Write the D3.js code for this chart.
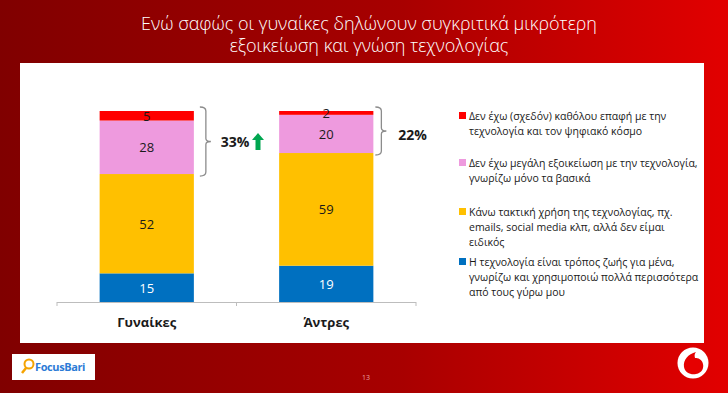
<!DOCTYPE html>
<html>
<head>
<meta charset="utf-8">
<script src="https://cdn.jsdelivr.net/npm/d3@7/dist/d3.min.js"></script>
<style>
  html, body { margin: 0; padding: 0; background: #8a0000; }
  svg { display: block; }
</style>
</head>
<body>
<svg id="chart" width="728" height="393"></svg>
<script>
// data
var categories = ['Γυναίκες', 'Άντρες'];
var lifestyle = [15, 19];   // blue
var regular = [52, 59];     // yellow
var basic = [28, 20];       // pink
var noContact = [5, 2];     // red
var bracketTotals = ['33%', '22%'];
var titleLines = ['Ενώ σαφώς οι γυναίκες δηλώνουν συγκριτικά μικρότερη', 'εξοικείωση και γνώση τεχνολογίας'];
var legendLabels = [
  ['Δεν έχω (σχεδόν) καθόλου επαφή με την', 'τεχνολογία και τον ψηφιακό κόσμο'],
  ['Δεν έχω μεγάλη εξοικείωση με την τεχνολογία,', 'γνωρίζω μόνο τα βασικά'],
  ['Κάνω τακτική χρήση της τεχνολογίας, πχ.', 'emails, social media  κλπ, αλλά δεν είμαι', 'ειδικός'],
  ['Η τεχνολογία είναι τρόπος ζωής για μένα,', 'γνωρίζω και χρησιμοποιώ πολλά περισσότερα', 'από τους γύρω μου']
];

var keys = ['lifestyle', 'regular', 'basic', 'noContact'];
var colors = { lifestyle: '#0070c0', regular: '#ffc000', basic: '#ee9ade', noContact: '#ff0000' };
var labelColors = { lifestyle: '#ffffff', regular: '#1a1a1a', basic: '#1a1a1a', noContact: '#1a1a1a' };

var rows = categories.map(function(c, i) {
  return { cat: c, lifestyle: lifestyle[i], regular: regular[i], basic: basic[i], noContact: noContact[i] };
});

var svg = d3.select('#chart');
var font = '"Open Sans", "Liberation Sans", sans-serif';

// slide background
var defs = svg.append('defs');
var grad = defs.append('linearGradient').attr('id', 'bg').attr('x1', 0).attr('x2', 1).attr('y1', 0).attr('y2', 0);
grad.append('stop').attr('offset', '0%').attr('stop-color', '#800000');
grad.append('stop').attr('offset', '55%').attr('stop-color', '#a80000');
grad.append('stop').attr('offset', '100%').attr('stop-color', '#e20000');
svg.append('rect').attr('width', 728).attr('height', 393).attr('fill', 'url(#bg)');

// title
svg.append('g').selectAll('text')
  .data(titleLines)
  .join('text')
  .attr('x', 369)
  .attr('y', function(d, i) { return 30 + i * 22; })
  .attr('text-anchor', 'middle')
  .attr('fill', '#fff')
  .attr('font-family', font)
  .attr('font-weight', 300)
  .attr('font-size', 18)
  .text(function(d) { return d; });

// white panel
svg.append('rect').attr('x', 20).attr('y', 63).attr('width', 684).attr('height', 280).attr('fill', '#fff');

// scales
var x = d3.scaleBand().domain(categories).range([57, 416]);
var y = d3.scaleLinear().domain([0, 100]).range([302, 111]);
var barW = x.bandwidth() * 0.525;

var stack = d3.stack().keys(keys)(rows);

var layers = svg.append('g').selectAll('g')
  .data(stack)
  .join('g')
  .attr('fill', function(d) { return colors[d.key]; });

layers.selectAll('rect')
  .data(function(d) { return d; })
  .join('rect')
  .attr('x', function(d) { return x(d.data.cat) + (x.bandwidth() - barW) / 2; })
  .attr('y', function(d) { return y(d[1]); })
  .attr('width', barW)
  .attr('height', function(d) { return y(d[0]) - y(d[1]); });

// value labels
var labels = svg.append('g');
stack.forEach(function(layer) {
  labels.selectAll('text.l-' + layer.key)
    .data(layer)
    .join('text')
    .attr('class', 'l-' + layer.key)
    .attr('x', function(d) { return x(d.data.cat) + x.bandwidth() / 2; })
    .attr('y', function(d) { return (y(d[0]) + y(d[1])) / 2 + 5; })
    .attr('text-anchor', 'middle')
    .attr('font-family', font)
    .attr('font-size', 13)
    .attr('fill', labelColors[layer.key])
    .text(function(d) { return d[1] - d[0]; });
});

// category axis
var axis = svg.append('g').attr('stroke', '#bdbdbd').attr('stroke-width', 1);
axis.append('line').attr('x1', 57).attr('x2', 416).attr('y1', 302.5).attr('y2', 302.5);
[57, 57 + x.step(), 416].forEach(function(t) {
  axis.append('line').attr('x1', t).attr('x2', t).attr('y1', 302).attr('y2', 306);
});
svg.append('g').selectAll('text')
  .data(categories)
  .join('text')
  .attr('x', function(d) { return x(d) + x.bandwidth() / 2; })
  .attr('y', 327)
  .attr('text-anchor', 'middle')
  .attr('font-family', font)
  .attr('font-weight', 'bold')
  .attr('font-size', 13)
  .attr('fill', '#1a1a1a')
  .text(function(d) { return d; });

// brackets over the two upper segments
var bracketGap = [12, 8];
var totalGap = [15, 17];
rows.forEach(function(r, i) {
  var bx = x(r.cat) + (x.bandwidth() + barW) / 2 + bracketGap[i];
  var top = y(100) - 4;
  var bottom = y(r.lifestyle + r.regular) + 2;
  var mid = (top + bottom) / 2;
  svg.append('path')
    .attr('d', 'M' + (bx - 6) + ',' + top + ' Q' + bx + ',' + top + ' ' + bx + ',' + (top + 4) +
      ' L' + bx + ',' + (mid - 3) + ' Q' + bx + ',' + mid + ' ' + (bx + 5) + ',' + mid +
      ' Q' + bx + ',' + mid + ' ' + bx + ',' + (mid + 3) +
      ' L' + bx + ',' + (bottom - 4) + ' Q' + bx + ',' + bottom + ' ' + (bx - 6) + ',' + bottom)
    .attr('fill', 'none')
    .attr('stroke', '#8c8c8c')
    .attr('stroke-width', 1.3);
  svg.append('text')
    .attr('x', bx + totalGap[i])
    .attr('y', i === 0 ? mid + 5 : mid + 9)
    .attr('font-family', font)
    .attr('font-weight', 'bold')
    .attr('font-size', 14)
    .attr('fill', '#1a1a1a')
    .text(bracketTotals[i]);
});

// green up arrow next to 33%
var ax = 258, ay = 133;
svg.append('path')
  .attr('d', 'M' + ax + ',' + ay + ' l6,7 h-3.5 v10 h-5 v-10 h-3.5 z')
  .attr('fill', '#00a650');

// legend
var legendKeys = ['noContact', 'basic', 'regular', 'lifestyle'];
var legendTop = [116, 163, 212, 262];
var legend = svg.append('g').attr('font-family', font).attr('font-size', 10.5).attr('fill', '#1a1a1a');
legendKeys.forEach(function(k, i) {
  legend.append('rect')
    .attr('x', 459).attr('y', legendTop[i] - 4)
    .attr('width', 7).attr('height', 7)
    .attr('fill', colors[k]);
  legend.append('g').selectAll('text')
    .data(legendLabels[i])
    .join('text')
    .attr('x', 469)
    .attr('y', function(d, j) { return legendTop[i] + 4 + j * 15; })
    .text(function(d) { return d; });
});

// footer: logo box, page number, speech mark
var logo = svg.append('g');
logo.append('rect').attr('x', 12).attr('y', 354).attr('width', 83).attr('height', 26).attr('fill', '#fff');
logo.append('circle').attr('cx', 29).attr('cy', 364).attr('r', 4.5).attr('fill', 'none').attr('stroke', '#f5a300').attr('stroke-width', 2);
logo.append('line').attr('x1', 26).attr('y1', 368).attr('x2', 22).attr('y2', 373).attr('stroke', '#f5a300').attr('stroke-width', 2.5);
logo.append('text').attr('x', 35).attr('y', 371).attr('font-family', font).attr('font-weight', 'bold')
  .attr('font-size', 11).attr('letter-spacing', -0.4).attr('fill', '#2b7bd6').text('FocusBari');

svg.append('text').attr('x', 366).attr('y', 380).attr('text-anchor', 'middle')
  .attr('font-family', font).attr('font-size', 7).attr('fill', '#e8a0a0').text('13');

var voda = svg.append('g').attr('transform', 'translate(693,363)');
voda.append('circle').attr('r', 15.5).attr('fill', '#fff');
voda.append('path')
  .attr('d', 'M3,-11 C-5,-9 -10,-3 -9,4 C-8,10 -2,12 3,11 C9,10 11,5 10,1 C9,-4 5,-5 2,-5 C1,-8 2,-10 3,-11 Z')
  .attr('fill', '#e60000');
</script>
</body>
</html>
